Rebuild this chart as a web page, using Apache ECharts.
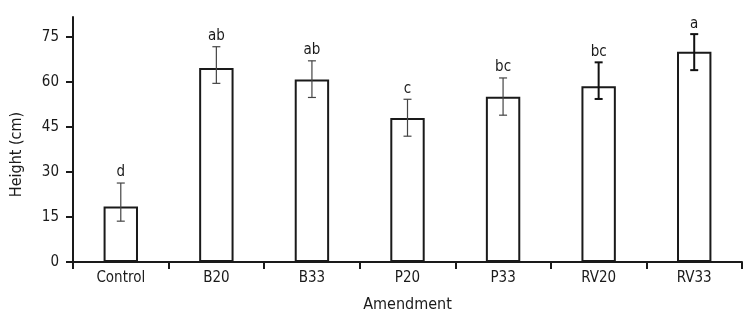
<!DOCTYPE html>
<html>
<head>
<meta charset="utf-8">
<script src="https://cdn.jsdelivr.net/npm/echarts@6/dist/echarts.min.js"></script>
<style>
  html, body { margin: 0; padding: 0; background: #fff; }
  #chart { width: 753px; height: 323px; }
</style>
</head>
<body>
<div id="chart"></div>
<script>
const categories = ['Control', 'B20', 'B33', 'P20', 'P33', 'RV20', 'RV33'];
const heights = [18.5, 64.6, 60.8, 48.0, 55.0, 58.5, 70.0];
const errLow = [13.6, 59.5, 54.8, 41.9, 48.9, 54.3, 63.9];
const errHigh = [26.3, 71.7, 67.0, 54.2, 61.3, 66.5, 75.9];
const letters = ['d', 'ab', 'ab', 'c', 'bc', 'bc', 'a'];
const yTicks = [0, 15, 30, 45, 60, 75];

const FONT = "'Liberation Sans Narrow', 'DejaVu Sans Condensed', sans-serif";
const INK = '#1a1a1a';

const chart = echarts.init(document.getElementById('chart'));
chart.setOption({
  animation: false,
  grid: { left: 73, right: 11, top: 17, bottom: 61 },
  xAxis: {
    type: 'category',
    data: categories,
    name: 'Amendment',
    nameLocation: 'middle',
    nameGap: 35,
    nameTextStyle: { fontFamily: FONT, fontSize: 16, color: INK },
    axisLine: { lineStyle: { color: INK, width: 2 } },
    axisTick: { show: true, length: 7, lineStyle: { color: INK, width: 2 } },
    axisLabel: { fontFamily: FONT, fontSize: 15, color: INK, margin: 9 },
  },
  yAxis: {
    type: 'value',
    min: 0,
    max: 81.6,
    interval: 15,
    name: 'Height (cm)',
    nameLocation: 'middle',
    nameGap: 48,
    nameTextStyle: { fontFamily: FONT, fontSize: 16, color: INK, padding: [0, 30, 0, 0] },
    splitLine: { show: false },
    axisLine: { show: true, lineStyle: { color: INK, width: 2 } },
    axisTick: { show: true, length: 7, customValues: yTicks, lineStyle: { color: INK, width: 2 } },
    axisLabel: { fontFamily: FONT, fontSize: 15, color: INK, margin: 14, customValues: yTicks },
  },
  series: [
    {
      type: 'bar',
      data: heights,
      barWidth: '36%',
      itemStyle: { color: '#fff', borderColor: INK, borderWidth: 2 },
    },
    {
      type: 'custom',
      z: 5,
      data: categories.map((c, i) => [i, errLow[i], errHigh[i]]),
      renderItem: (params, api) => {
        const i = params.dataIndex;
        const top = api.coord([api.value(0), api.value(2)]);
        const bot = api.coord([api.value(0), api.value(1)]);
        const w = i >= 5 ? 2 : 1.2;
        const cap = 4;
        const style = { stroke: i >= 5 ? '#111' : '#444', lineWidth: w };
        return {
          type: 'group',
          children: [
            { type: 'line', shape: { x1: top[0], y1: top[1], x2: bot[0], y2: bot[1] }, style },
            { type: 'line', shape: { x1: top[0] - cap, y1: top[1], x2: top[0] + cap, y2: top[1] }, style },
            { type: 'line', shape: { x1: bot[0] - cap, y1: bot[1], x2: bot[0] + cap, y2: bot[1] }, style },
            {
              type: 'text',
              style: {
                x: top[0], y: top[1] - 3,
                text: letters[i],
                align: 'center', verticalAlign: 'bottom',
                font: '15px ' + FONT, fill: INK,
              },
            },
          ],
        };
      },
    },
  ],
});
</script>
</body>
</html>
